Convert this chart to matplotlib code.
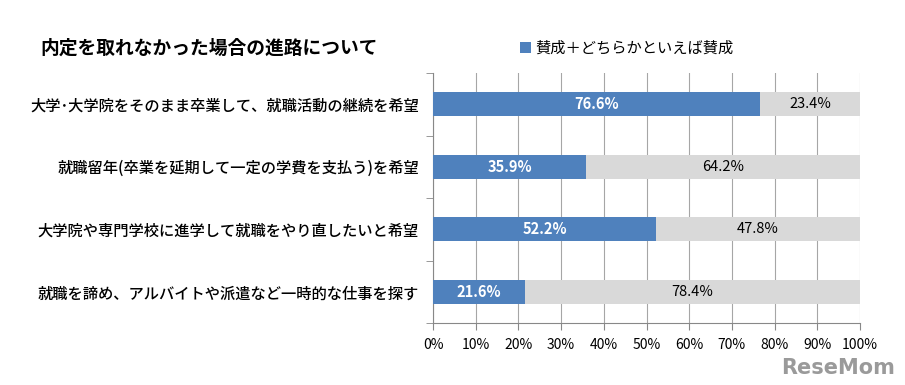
import matplotlib.pyplot as plt
import numpy as np

plt.rcParams['font.family'] = ['Noto Sans CJK JP', 'DejaVu Sans']

# Data
categories = [
    '大学･大学院をそのまま卒業して、就職活動の継続を希望',
    '就職留年(卒業を延期して一定の学費を支払う)を希望',
    '大学院や専門学校に進学して就職をやり直したいと希望',
    '就職を諦め、アルバイトや派遣など一時的な仕事を探す',
]
agree = [76.6, 35.9, 52.2, 21.6]
other = [23.4, 64.2, 47.8, 78.4]
legend_label = '賛成＋どちらかといえば賛成'
title = '内定を取れなかった場合の進路について'

blue = '#4F81BD'
gray = '#D9D9D9'

fig = plt.figure(figsize=(9.05, 3.85), dpi=100)
ax = fig.add_axes([433 / 905, 1 - 323 / 385, 427 / 905, 250 / 385])

y = np.arange(len(categories))
ax.barh(y, agree, height=0.38, color=blue, zorder=3, label=legend_label)
ax.barh(y, other, left=agree, height=0.38, color=gray, zorder=3)

for i in range(len(categories)):
    ax.text(agree[i] / 2, y[i], f'{agree[i]:.1f}%', ha='center', va='center',
            color='white', fontsize=10.5, fontweight='bold', zorder=4)
    ax.text(agree[i] + other[i] / 2, y[i], f'{other[i]:.1f}%', ha='center', va='center',
            color='black', fontsize=10.5, zorder=4)

ax.set_xlim(0, 100)
ax.set_ylim(len(categories) - 0.5, -0.5)
ax.set_xticks(np.arange(0, 101, 10))
ax.set_xticklabels([f'{v}%' for v in range(0, 101, 10)], fontsize=10)
ax.set_yticks(y)
ax.set_yticklabels(categories, fontsize=11, fontweight='medium')
ax.tick_params(axis='y', length=0, pad=10)
ax.set_yticks(np.arange(-0.5, len(categories), 1), minor=True)
ax.tick_params(axis='y', which='minor', length=5, color='#888888')
ax.tick_params(axis='x', length=5, color='#888888', pad=6)
ax.grid(axis='x', color='#A6A6A6', linewidth=0.8, zorder=0)

for s in ['top', 'right']:
    ax.spines[s].set_visible(False)
for s in ['left', 'bottom']:
    ax.spines[s].set_color('#888888')

fig.text(40 / 905, 1 - 48 / 385, title, fontsize=13.5, fontweight='bold', va='center')
fig.legend(loc='center', bbox_to_anchor=(627 / 905, 1 - 48 / 385), frameon=False,
           fontsize=11, handlelength=0.7, handleheight=0.7, handletextpad=0.3)

fig.text(895 / 905, 1 - 368 / 385, 'ReseMom', fontsize=15, fontweight='bold',
         color='#9A9A9A', ha='right', va='center', family='DejaVu Sans')

fig.savefig('out.png', dpi=100)
